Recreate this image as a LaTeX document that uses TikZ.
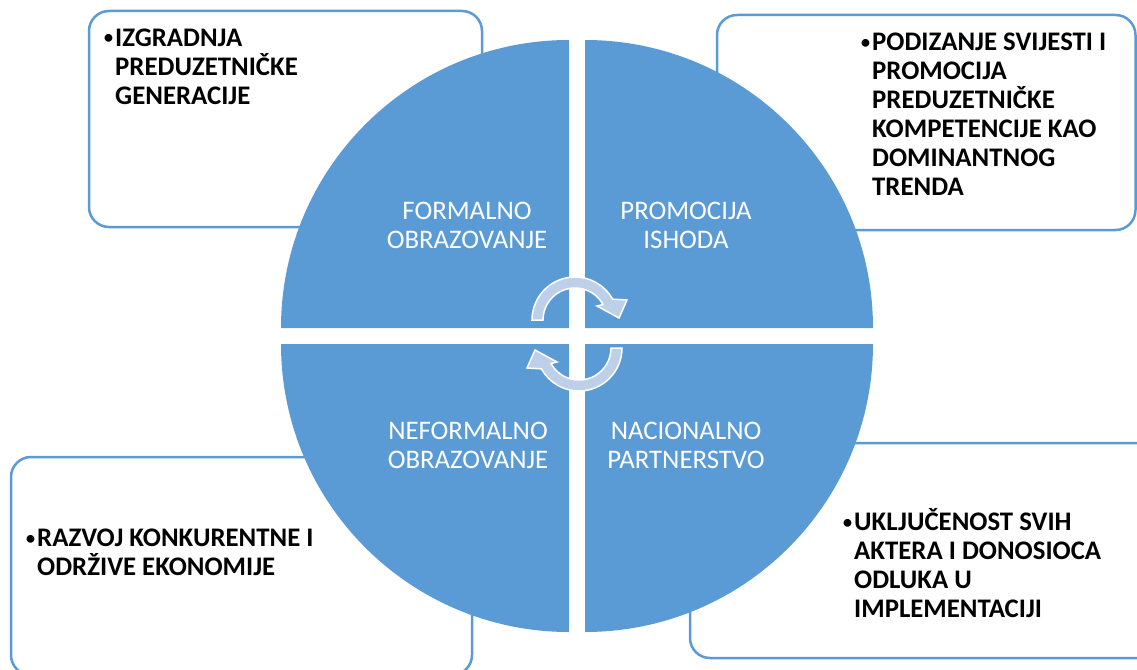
\documentclass[tikz,border=0pt]{standalone}
\usepackage{fontspec}
\setmainfont{Carlito}
\definecolor{qblue}{RGB}{91,155,213}
\definecolor{arrowfill}{RGB}{189,207,233}
\begin{document}
\begin{tikzpicture}[x=1pt,y=1pt,yscale=-1,
  box/.style={draw=qblue,line width=2.5pt,fill=white,rounded corners=20pt},
  quad/.style={fill=qblue},
  cyc/.style={fill=arrowfill,draw=white,line width=1.5pt,line join=miter},
  qlabel/.style={text=white,font=\fontsize{26.8}{29}\selectfont,align=center,inner sep=0pt,anchor=base},
  blabel/.style={font=\bfseries\fontsize{26.8}{29}\selectfont,align=left,inner sep=0pt,anchor=base west},
  bullet/.style={font=\fontsize{22}{29}\selectfont,inner sep=0pt,anchor=base west}]
\useasboundingbox (0,0) rectangle (1137,669);
\clip (0,0) rectangle (1137,669);
% boxes
\draw[box] (89,11) rectangle (482,227);
\draw[box] (717,15) rectangle (1135.5,230);
\draw[box] (11,457) rectangle (472,675);
\draw[box] (690,443) rectangle (1160,658);
% quadrants
\fill[quad] (569,328) -- ++(180:288) arc[start angle=180,end angle=270,radius=288] -- cycle;
\fill[quad] (585,328) -- ++(270:288) arc[start angle=270,end angle=360,radius=288] -- cycle;
\fill[quad] (585,344) -- ++(0:288) arc[start angle=0,end angle=90,radius=288] -- cycle;
\fill[quad] (569,344) -- ++(90:288) arc[start angle=90,end angle=180,radius=288] -- cycle;
% circular arrows
\begin{scope}[shift={(575,320)}]
\draw[cyc] (180:43) arc[start angle=180,end angle=331,radius=43] -- (52,-20) -- (44,-2) -- (22,-14) -- (331:32) arc[start angle=331,end angle=180,radius=32] -- cycle;
\end{scope}
\begin{scope}[shift={(579,348)},rotate=180]
\draw[cyc] (180:43) arc[start angle=180,end angle=331,radius=43] -- (52,-20) -- (44,-2) -- (22,-14) -- (331:32) arc[start angle=331,end angle=180,radius=32] -- cycle;
\end{scope}
% quadrant labels (anchored at the baseline of the last line)
\node[qlabel] (formal) at (467,248) {FORMALNO\\OBRAZOVANJE};
\node[qlabel] (promo) at (686,248) {PROMOCIJA\\ISHODA};
\node[qlabel] (neform) at (468,468) {NEFORMALNO\\OBRAZOVANJE};
\node[qlabel] (nacion) at (686,468) {NACIONALNO\\PARTNERSTVO};
% bullet texts
\node[bullet] (b1) at (103,45) {•};
\node[blabel] (t1) at (115,104) {IZGRADNJA\\PREDUZETNIČKE\\GENERACIJE};
\node[bullet] (b2) at (860,49) {•};
\node[blabel] (t2) at (872,195) {PODIZANJE SVIJESTI I\\PROMOCIJA\\PREDUZETNIČKE\\KOMPETENCIJE KAO\\DOMINANTNOG\\TRENDA};
\node[bullet] (b3) at (25,545) {•};
\node[blabel] (t3) at (37,575) {RAZVOJ KONKURENTNE I\\ODRŽIVE EKONOMIJE};
\node[bullet] (b4) at (842,529) {•};
\node[blabel] (t4) at (854,617) {UKLJUČENOST SVIH\\AKTERA I DONOSIOCA\\ODLUKA U\\IMPLEMENTACIJI};
\end{tikzpicture}
\end{document}
